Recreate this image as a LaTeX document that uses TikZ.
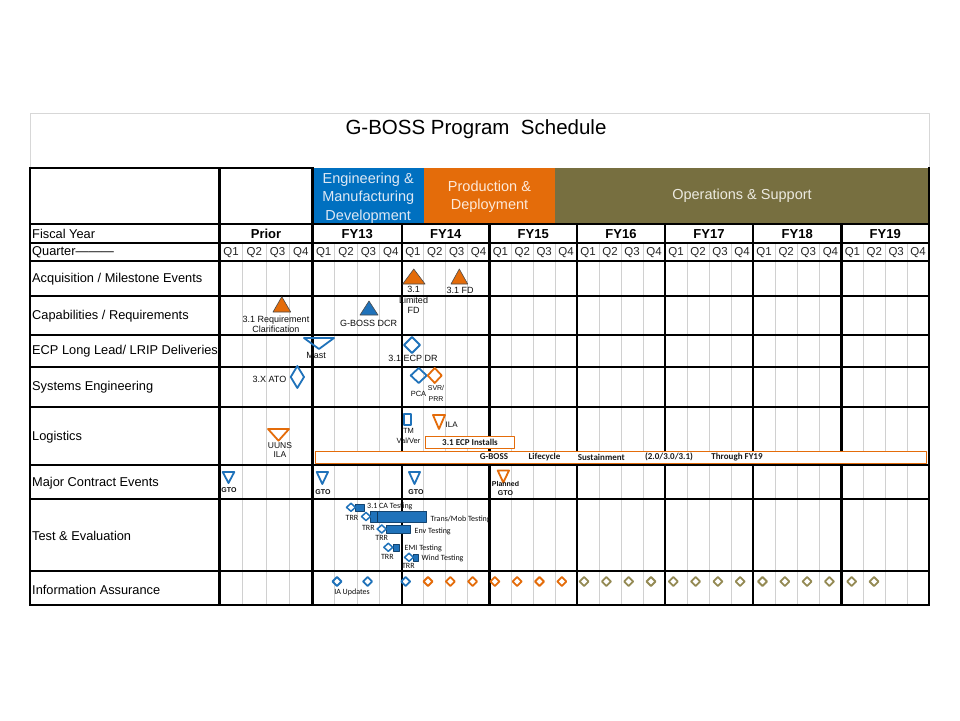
\documentclass[tikz,border=0pt]{standalone}
\usepackage{fontspec}
\setmainfont{Liberation Sans}
\newfontfamily\calib{Carlito}
\definecolor{emdblue}{RGB}{0,112,192}
\definecolor{pdorange}{RGB}{228,108,10}
\definecolor{osolive}{RGB}{119,111,64}
\definecolor{iaolive}{RGB}{148,138,84}
\definecolor{mkblue}{RGB}{31,114,186}
\definecolor{gridgray}{RGB}{208,208,208}
\definecolor{titlegray}{RGB}{215,215,215}
\definecolor{emdtext}{RGB}{222,232,244}
\definecolor{pdtext}{RGB}{253,233,217}
\definecolor{ostext}{RGB}{236,234,224}
\begin{document}
\begin{tikzpicture}[x=1pt,y=-1pt,line join=round,
  thickln/.style={line width=2.2pt,line cap=rect},
  qline/.style={draw=gridgray,line width=.8pt},
  phase/.style={inner sep=0pt,align=center,font={\fontsize{14.5}{18.5}\selectfont}},
  rowlbl/.style={anchor=west,inner sep=0pt,font={\fontsize{12.8}{15}\selectfont}},
  yrlbl/.style={inner sep=0pt,font={\bfseries\fontsize{13}{15}\selectfont}},
  qlbl/.style={inner sep=0pt,text=black!85,font={\fontsize{11.5}{13}\selectfont}},
  lbl/.style={inner sep=0pt,align=center,text=black!95,font={\fontsize{9}{10.5}\selectfont}},
  lbs/.style={inner sep=0pt,align=center,text=black!95,font={\fontsize{7.5}{10}\selectfont}},
  gto/.style={inner sep=0pt,align=center,text=black!95,font={\bfseries\fontsize{7}{9}\selectfont}},
  tel/.style={inner sep=0pt,text=black!95,font={\calib\fontsize{8}{9}\selectfont}},
  boxtxt/.style={inner sep=0pt,text=black!90,font={\calib\bfseries\fontsize{9}{10}\selectfont}},
  mk/.style={line width=1.8pt},
  trimk/.style={fill=#1,draw=black!70,line width=.6pt}]
\useasboundingbox (0,0) rectangle (960,720);
\fill[white] (0,0) rectangle (960,720);
\draw[titlegray,line width=.8pt] (30,113) rectangle (929,168);
\node[font={\fontsize{20.5}{24}\selectfont}] (title) at (476,129) {G-BOSS Program\ \ Schedule};

\fill[emdblue] (312.5,168) rectangle (424,224);
\fill[pdorange] (424,168) rectangle (555,224);
\fill[osolive] (555,168) rectangle (929,224);
\node[phase,text=emdtext] (emd) at (368.2,198) {Engineering \&\\Manufacturing\\Development};
\node[phase,text=pdtext] (pd) at (489.5,196.5) {Production \&\\Deployment};
\node[phase,text=ostext] (os) at (742,196) {Operations \& Support};

\foreach \yr/\xa/\xb in {Prior/219.5/312.5,FY13/312.5/402,FY14/402/489.5,FY15/489.5/577,
    FY16/577/665,FY17/665/753,FY18/753/841.5,FY19/841.5/929}{
  \foreach \q in {1,2,3}
    \draw[qline] ({\xa+\q*(\xb-\xa)/4},243) -- ({\xa+\q*(\xb-\xa)/4},605);
  \foreach \q in {1,...,4}
    \node[qlbl] (\yr-q\q) at ({\xa+(\q-.5)*(\xb-\xa)/4},252.5) {Q\q};
  \node[yrlbl] (\yr) at ({(\xa+\xb)/2},234) {\yr};
}

\foreach \y in {224,243,261,296,335,367,407,465,499,571,605}
  \draw[thickln] (30,\y) -- (929,\y);
\draw[thickln] (30,168) -- (312.5,168);
\foreach \x in {30,219.5,312.5,929}
  \draw[thickln] (\x,168) -- (\x,605);
\foreach \x in {402,489.5,577,665,753,841.5}
  \draw[thickln] (\x,224) -- (\x,605);

\node[rowlbl] (fy) at (32,234) {Fiscal Year};
\node[rowlbl] (qtr) at (32,252.5) {Quarter———};
\node[rowlbl] (acq) at (32,279.5) {Acquisition / Milestone Events};
\node[rowlbl] (cap) at (32,316) {Capabilities / Requirements};
\node[rowlbl] (ecp) at (32,351) {ECP Long Lead/ LRIP Deliveries};
\node[rowlbl] (se) at (32,387.5) {Systems Engineering};
\node[rowlbl] (log) at (32,437) {Logistics};
\node[rowlbl] (mce) at (32,483) {Major Contract Events};
\node[rowlbl] (te) at (32,536) {Test \& Evaluation};
\node[rowlbl] (ia) at (32,590) {Information Assurance};

\filldraw[trimk=pdorange] (402.7,284) -- (425,284) -- (413.8,269) -- cycle;
\node[lbl,anchor=north] (ltdfd) at (413.5,286.5) {3.1\\Limited\\FD};
\filldraw[trimk=pdorange] (451,284) -- (467.7,284) -- (459.3,269) -- cycle;
\node[lbl] (fd) at (460,290) {3.1 FD};

\filldraw[trimk=pdorange] (273,312) -- (290.7,312) -- (281.8,296.7) -- cycle;
\node[lbl,anchor=north,font={\fontsize{9}{10}\selectfont}] (reqclar) at (276,315.5) {3.1 Requirement\\Clarification};
\filldraw[trimk=mkblue] (360,315) -- (378,315) -- (369,301) -- cycle;
\node[lbl] (dcr) at (368.5,323) {G-BOSS DCR};

\draw[mk,draw=mkblue] (304,338) -- (334,338) -- (319,349) -- cycle;
\node[lbl] (mast) at (316,355) {Mast};
\draw[mk,draw=mkblue] (404,345) -- (412,337) -- (420,345) -- (412,353) -- cycle;
\node[lbl] (ecpdr) at (413,358.5) {3.1 ECP DR};

\draw[mk,draw=mkblue] (290.7,377) -- (297.3,366) -- (304,377) -- (297.3,388) -- cycle;
\node[lbl,anchor=east] (ato) at (286.5,379) {3.X ATO};
\draw[mk,draw=mkblue] (410.7,375.5) -- (418.7,368) -- (426.7,375.5) -- (418.7,383) -- cycle;
\node[lbs] (pca) at (418.5,393.5) {PCA};
\draw[mk,draw=pdorange] (427.7,375.5) -- (434.7,368) -- (441.7,375.5) -- (434.7,383) -- cycle;
\node[lbs,anchor=north,font={\fontsize{7}{11}\selectfont}] (svr) at (436,385) {SVR/\\PRR};

\draw[mk,draw=mkblue,line width=1.5pt] (404,414) rectangle (411,425);
\node[lbs,anchor=north] (tmvv) at (408.5,428) {TM\\Val/Ver};
\draw[mk,draw=pdorange] (433,415) -- (445,415) -- (439,429) -- cycle;
\node[lbs,anchor=west,font={\fontsize{8}{10}\selectfont}] (ila) at (445.5,424.5) {ILA};
\draw[mk,draw=pdorange] (268,429) -- (289,429) -- (278.5,440.7) -- cycle;
\node[lbl,anchor=north,font={\fontsize{8.5}{9.5}\selectfont}] (uuns) at (280,442) {UUNS\\ILA};
\draw[draw=pdorange,fill=white,line width=1pt] (425.7,436.7) rectangle (514,448);
\node[boxtxt] (ecpinst) at (470,442.5) {3.1 ECP Installs};
\draw[draw=pdorange,fill=white,line width=1pt] (315,451) rectangle (926.7,463);
\node[boxtxt] (lcgb) at (494,457) {G-BOSS};
\node[boxtxt] (lclife) at (544.5,457) {Lifecycle};
\node[boxtxt] (lcsust) at (601.3,457) {Sustainment};
\node[boxtxt] (lcver) at (669,457) {(2.0/3.0/3.1)};
\node[boxtxt] (lcthru) at (737,457) {Through FY19};

\draw[mk,draw=mkblue] (222.7,472) -- (234.3,472) -- (228.5,483) -- cycle;
\node[gto] (gto1) at (229,490) {GTO};
\draw[mk,draw=mkblue] (316.7,472) -- (328,472) -- (322.3,484) -- cycle;
\node[gto] (gto2) at (323,492.5) {GTO};
\draw[mk,draw=mkblue] (409,472) -- (420,472) -- (414.5,484) -- cycle;
\node[gto] (gto3) at (416,492.5) {GTO};
\draw[mk,draw=pdorange] (497.7,470.5) -- (509,470.5) -- (503.3,482.5) -- cycle;
\node[gto,anchor=north,font={\bfseries\fontsize{7}{9}\selectfont}] (pgto) at (505.5,481.5) {Planned\\GTO};

\foreach \cx/\cy/\bx/\bh in {351/507.3/364/3.5,366/516.5/426.7/5.3,381.7/529/410.7/4,
    388.3/547.3/399.3/3.5,409/557.3/418.3/3.5}{
  \filldraw[fill=mkblue,draw=mkblue!60!black,line width=.5pt] (\cx+4.5,\cy-\bh) rectangle (\bx,\cy+\bh);
  \draw[mk,draw=mkblue,fill=white,line width=1.5pt] (\cx-4.5,\cy) -- (\cx,\cy-4) -- (\cx+4.5,\cy) -- (\cx,\cy+4) -- cycle;
}
\draw[mkblue!50!black,line width=.6pt] (377.5,511.5) -- (377.5,521.5);
\node[tel,anchor=west] (catest) at (367,506.5) {3.1 CA Testing};
\node[tel] (trr1) at (352,517.5) {TRR};
\node[tel,anchor=west] (tmtest) at (430.5,519.5) {Trans/Mob Testing};
\node[tel] (trr2) at (368.3,527.7) {TRR};
\node[tel,anchor=west] (envtest) at (414.5,531) {Env Testing};
\node[tel] (trr3) at (381.7,538.3) {TRR};
\node[tel,anchor=west] (emitest) at (404.5,548) {EMI Testing};
\node[tel] (trr4) at (387.3,556.7) {TRR};
\node[tel,anchor=west] (windtest) at (421.5,558.3) {Wind Testing};
\node[tel] (trr5) at (408.3,566) {TRR};

\foreach \x in {337,367.6,405.7}
  \draw[mk,draw=mkblue,shift={(\x,581.5)}] (-4.5,0) -- (0,-4.5) -- (4.5,0) -- (0,4.5) -- cycle;
\foreach \k in {1,...,7}
  \draw[mk,draw=pdorange,shift={({405.7+22.3*\k},581.5)}] (-4.5,0) -- (0,-4.5) -- (4.5,0) -- (0,4.5) -- cycle;
\foreach \k in {8,...,21}
  \draw[mk,draw=iaolive,shift={({405.7+22.3*\k},581.5)}] (-4.5,0) -- (0,-4.5) -- (4.5,0) -- (0,4.5) -- cycle;
\node[tel] (iaupd) at (352,592) {IA Updates};
\end{tikzpicture}
\end{document}
